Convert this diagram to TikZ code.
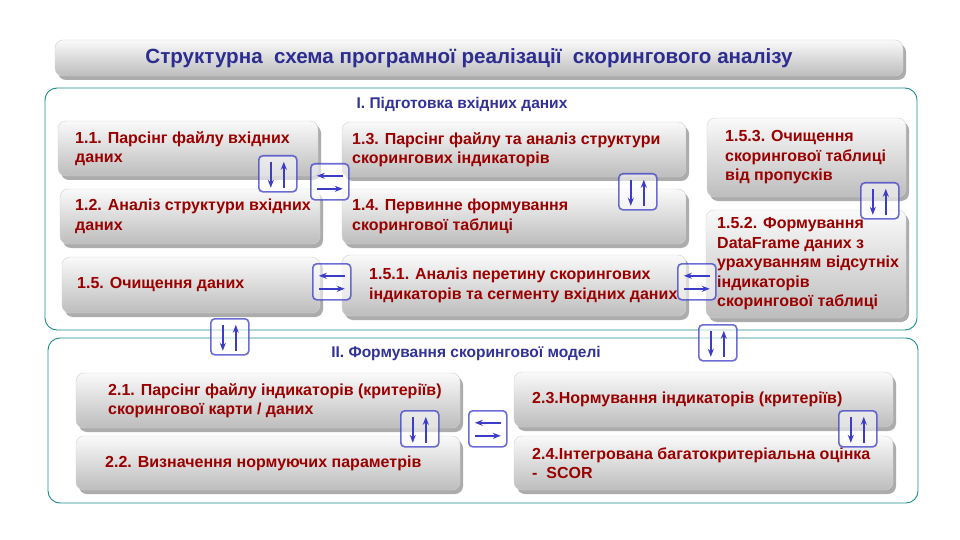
\documentclass[tikz,border=0pt]{standalone}
\usepackage{fontspec}
\setmainfont{Liberation Sans}
\usetikzlibrary{shadows,arrows.meta,fit}
\definecolor{boxred}{RGB}{155,0,0}
\definecolor{titleblue}{RGB}{45,45,145}
\definecolor{secblue}{RGB}{50,50,150}
\definecolor{frameteal}{RGB}{30,140,140}
\definecolor{iconblue}{RGB}{60,60,200}
\tikzset{
  box/.style={rounded corners=8pt, inner sep=0pt, top color=gray!4, middle color=gray!14, bottom color=gray!52,
    draw=gray!35, line width=0.4pt,
    general shadow={fill=gray!65, shadow xshift=3pt, shadow yshift=-4pt, rounded corners=8pt}},
  btext/.style={font=\fontsize{16}{19.5}\selectfont\bfseries, text=boxred, align=left, inner sep=0pt},
  frame/.style={draw=frameteal, line width=0.9pt, rounded corners=12pt, inner sep=0pt, fill=white},
  sectitle/.style={font=\fontsize{15.5}{18}\selectfont\bfseries, text=secblue, inner sep=0pt},
  icon/.style={draw=iconblue, draw opacity=0.75, line width=1.6pt, rounded corners=4pt,
    fill=white, fill opacity=0.55, minimum width=38pt, minimum height=36pt, inner sep=0pt, anchor=north west},
  iarr/.style={draw=iconblue, line width=2pt, -{Stealth[length=8pt,width=6pt]}}
}
\newcommand\mybox[7]{%
  \node[box, fit={(#2,#3) (#4,#5)}] (#1) {};
  \node[btext, anchor=west] (#1-t) at ({#6},{(#3+#5)/2}) {#7};}
\newcommand\vicon[3]{%
  \node[icon] (#1) at (#2,#3) {};
  \draw[iarr] ([xshift=-7pt,yshift=12pt]#1.center) -- ([xshift=-7pt,yshift=-14pt]#1.center);
  \draw[iarr] ([xshift=6pt,yshift=-14pt]#1.center) -- ([xshift=6pt,yshift=12pt]#1.center);}
\newcommand\hicon[3]{%
  \node[icon] (#1) at (#2,#3) {};
  \draw[iarr] ([xshift=13pt,yshift=6pt]#1.center) -- ([xshift=-13pt,yshift=6pt]#1.center);
  \draw[iarr] ([xshift=-13pt,yshift=-7pt]#1.center) -- ([xshift=13pt,yshift=-7pt]#1.center);}
\begin{document}
\begin{tikzpicture}[x=1pt,y=-1pt]
\useasboundingbox[fill=white] (0,0) rectangle (960,540);
% title bar
\node[box, fit={(55,40) (903,76)}] (title) {};
\node[font=\fontsize{20.6}{24}\selectfont\bfseries, text=titleblue, inner sep=0pt] (title-t) at (469,58)
  {Структурна\ \ схема програмної реалізації\ \ скорингового аналізу};
% frames
\node[frame, fit={(45,88) (917,330)}] (f1) {};
\node[sectitle] (f1-t) at (462,104) {I. Підготовка вхідних даних};
\node[frame, fit={(48,338) (918,503)}] (f2) {};
\node[sectitle] (f2-t) at (466,353) {II.\ Формування скорингової моделі};
% boxes part I
\mybox{b11}{58}{121}{318}{176}{75}{1.1. Парсінг файлу вхідних\\даних}
\mybox{b12}{60}{189}{320}{244}{75}{1.2. Аналіз структури вхідних\\даних}
\mybox{b15}{62}{257}{320}{313}{77}{1.5. Очищення даних}
\mybox{b13}{342}{122}{686}{177}{352}{1.3. Парсінг файлу та аналіз структури\\скорингових індикаторів}
\mybox{b14}{342}{189}{686}{244}{352}{1.4. Первинне формування\\скорингової таблиці}
\mybox{b151}{342}{255}{686}{316}{369}{1.5.1. Аналіз перетину скорингових\\індикаторів та сегменту вхідних даних}
\mybox{b153}{707}{118}{906}{197}{725}{1.5.3. Очищення\\скорингової таблиці\\від пропусків}
\mybox{b152}{706}{210}{906}{318}{717}{1.5.2. Формування\\DataFrame даних з\\урахуванням відсутніх\\індикаторів\\скорингової таблиці}
% boxes part II
\mybox{b21}{76}{373}{460}{428}{108}{2.1. Парсінг файлу індикаторів (критеріїв)\\скорингової карти / даних}
\mybox{b22}{76}{436}{460}{490}{105}{2.2. Визначення нормуючих параметрів}
\mybox{b23}{514}{372}{893}{427}{532}{2.3.Нормування індикаторів (критеріїв)}
\mybox{b24}{514}{436}{893}{490}{532}{2.4.Інтегрована багатокритеріальна оцінка\\-\ \ SCOR}
% icons
\vicon{i1}{258}{155}
\hicon{i2}{310}{163}
\hicon{i3}{312}{263}
\vicon{i4}{618}{173}
\vicon{i5}{860}{182}
\hicon{i6}{677}{263}
\vicon{i7}{210}{318}
\vicon{i8}{698}{324}
\vicon{i9}{400}{410}
\hicon{i10}{468}{410}
\vicon{i11}{838}{410}
\end{tikzpicture}
\end{document}
